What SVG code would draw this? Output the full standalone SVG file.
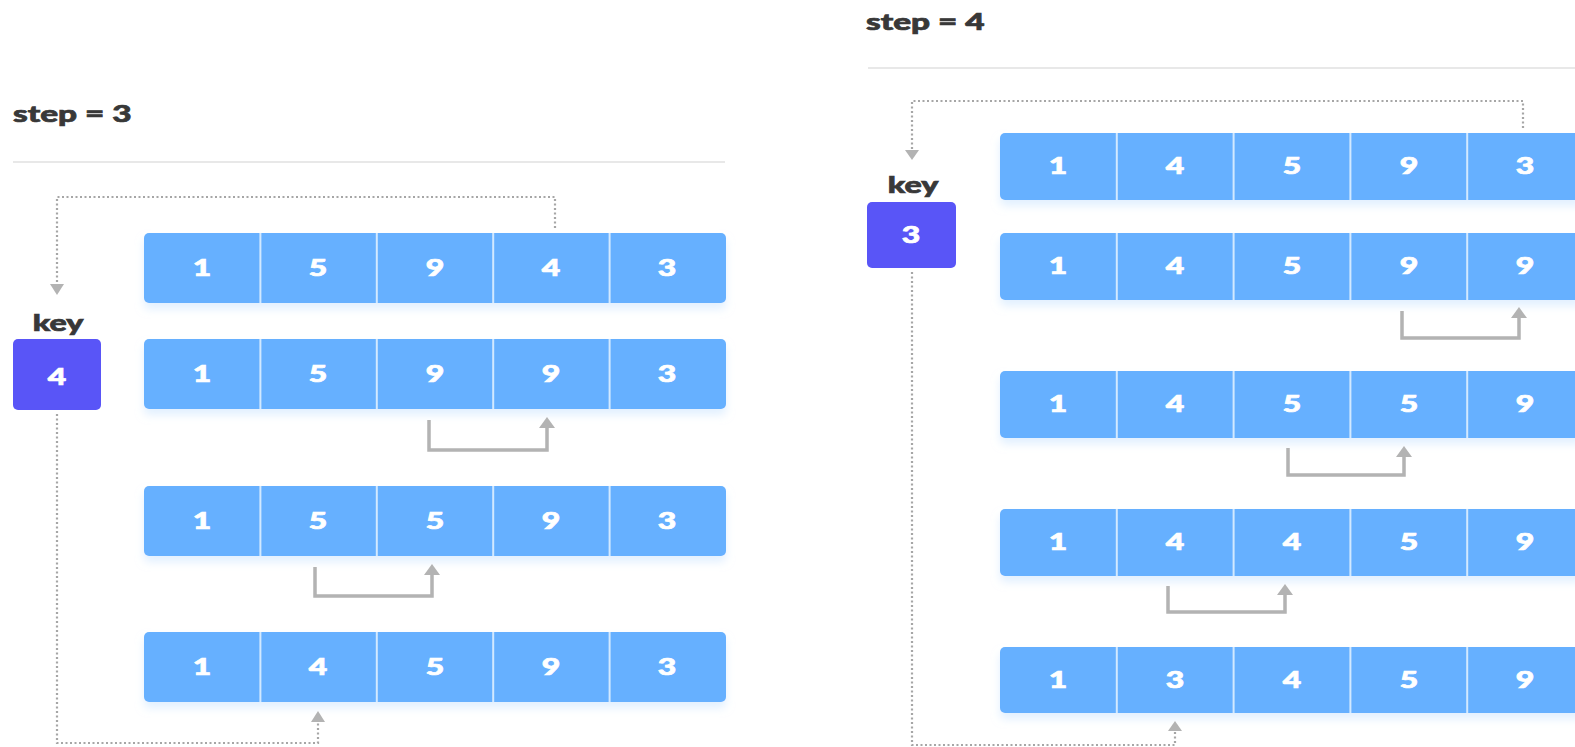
<svg xmlns="http://www.w3.org/2000/svg" width="1575" height="747" viewBox="0 0 1575 747">
  <style>
    .head { font-family: Lato, "DejaVu Sans", sans-serif; font-weight: 900; font-size: 23px; fill: #383838; stroke: #383838; stroke-width: 0.7; }
    .num { font-family: Lato, "DejaVu Sans", sans-serif; font-weight: 900; font-size: 22px; fill: #ffffff; stroke: #ffffff; stroke-width: 0.7; text-anchor: middle; }
    .row { fill: #66b0ff; filter: url(#glow); }
    .sep { stroke: #d2e9ff; stroke-width: 2; }
    .keybox { fill: #5955f7; }
    .rule { stroke: #e0e0e0; stroke-width: 1.5; fill: none; }
    .dot { stroke: #a6a6a6; stroke-width: 2.2; stroke-dasharray: 2 2.5; fill: none; }
    .move { stroke: #b3b3b3; stroke-width: 3.5; fill: none; }
    .tip { fill: #b3b3b3; }
  </style>
  <defs>
    <filter id="glow" x="-5%" y="-20%" width="110%" height="160%">
      <feDropShadow dx="0" dy="6" stdDeviation="4" flood-color="#cfe6ff" flood-opacity="0.6"/>
    </filter>
  </defs>
  <rect width="1575" height="747" fill="#ffffff"/>

  <!-- step = 3 panel -->
  <g id="panel-step3">
    <text class="head" transform="matrix(1.45 0 0 1 13 122)" x="0" y="0">step = 3</text>
    <line class="rule" x1="13" y1="162" x2="725" y2="162"/>
  </g>
  <g id="key-step3">
    <text class="head" transform="matrix(1.4 0 0 1 58 331)" x="0" y="0" text-anchor="middle">key</text>
    <rect class="keybox" x="13" y="339" width="88" height="71" rx="5"/>
    <text class="num" transform="matrix(1.45 0 0 1 57 385)" x="0" y="0">4</text>
  </g>
  <g id="s3-row1">
    <rect class="row" x="144" y="233" width="582" height="70" rx="5"/>
    <line class="sep" x1="260.4" y1="233" x2="260.4" y2="303"/>
    <line class="sep" x1="376.8" y1="233" x2="376.8" y2="303"/>
    <line class="sep" x1="493.2" y1="233" x2="493.2" y2="303"/>
    <line class="sep" x1="609.6" y1="233" x2="609.6" y2="303"/>
    <text class="num" transform="matrix(1.45 0 0 1 202 276)" x="0" y="0">1</text>
    <text class="num" transform="matrix(1.45 0 0 1 318 276)" x="0" y="0">5</text>
    <text class="num" transform="matrix(1.45 0 0 1 435 276)" x="0" y="0">9</text>
    <text class="num" transform="matrix(1.45 0 0 1 551 276)" x="0" y="0">4</text>
    <text class="num" transform="matrix(1.45 0 0 1 667 276)" x="0" y="0">3</text>
  </g>
  <g id="s3-row2">
    <rect class="row" x="144" y="339" width="582" height="70" rx="5"/>
    <line class="sep" x1="260.4" y1="339" x2="260.4" y2="409"/>
    <line class="sep" x1="376.8" y1="339" x2="376.8" y2="409"/>
    <line class="sep" x1="493.2" y1="339" x2="493.2" y2="409"/>
    <line class="sep" x1="609.6" y1="339" x2="609.6" y2="409"/>
    <text class="num" transform="matrix(1.45 0 0 1 202 382)" x="0" y="0">1</text>
    <text class="num" transform="matrix(1.45 0 0 1 318 382)" x="0" y="0">5</text>
    <text class="num" transform="matrix(1.45 0 0 1 435 382)" x="0" y="0">9</text>
    <text class="num" transform="matrix(1.45 0 0 1 551 382)" x="0" y="0">9</text>
    <text class="num" transform="matrix(1.45 0 0 1 667 382)" x="0" y="0">3</text>
  </g>
  <g id="s3-row3">
    <rect class="row" x="144" y="486" width="582" height="70" rx="5"/>
    <line class="sep" x1="260.4" y1="486" x2="260.4" y2="556"/>
    <line class="sep" x1="376.8" y1="486" x2="376.8" y2="556"/>
    <line class="sep" x1="493.2" y1="486" x2="493.2" y2="556"/>
    <line class="sep" x1="609.6" y1="486" x2="609.6" y2="556"/>
    <text class="num" transform="matrix(1.45 0 0 1 202 529)" x="0" y="0">1</text>
    <text class="num" transform="matrix(1.45 0 0 1 318 529)" x="0" y="0">5</text>
    <text class="num" transform="matrix(1.45 0 0 1 435 529)" x="0" y="0">5</text>
    <text class="num" transform="matrix(1.45 0 0 1 551 529)" x="0" y="0">9</text>
    <text class="num" transform="matrix(1.45 0 0 1 667 529)" x="0" y="0">3</text>
  </g>
  <g id="s3-row4">
    <rect class="row" x="144" y="632" width="582" height="70" rx="5"/>
    <line class="sep" x1="260.4" y1="632" x2="260.4" y2="702"/>
    <line class="sep" x1="376.8" y1="632" x2="376.8" y2="702"/>
    <line class="sep" x1="493.2" y1="632" x2="493.2" y2="702"/>
    <line class="sep" x1="609.6" y1="632" x2="609.6" y2="702"/>
    <text class="num" transform="matrix(1.45 0 0 1 202 675)" x="0" y="0">1</text>
    <text class="num" transform="matrix(1.45 0 0 1 318 675)" x="0" y="0">4</text>
    <text class="num" transform="matrix(1.45 0 0 1 435 675)" x="0" y="0">5</text>
    <text class="num" transform="matrix(1.45 0 0 1 551 675)" x="0" y="0">9</text>
    <text class="num" transform="matrix(1.45 0 0 1 667 675)" x="0" y="0">3</text>
  </g>

  <!-- step = 4 panel -->
  <g id="panel-step4">
    <text class="head" transform="matrix(1.45 0 0 1 866 30)" x="0" y="0">step = 4</text>
    <line class="rule" x1="868" y1="68" x2="1575" y2="68"/>
  </g>
  <g id="key-step4">
    <text class="head" transform="matrix(1.4 0 0 1 913 193)" x="0" y="0" text-anchor="middle">key</text>
    <rect class="keybox" x="867" y="202" width="89" height="66" rx="5"/>
    <text class="num" transform="matrix(1.45 0 0 1 911 243)" x="0" y="0">3</text>
  </g>
  <g id="s4-row1">
    <rect class="row" x="1000" y="133" width="584" height="67" rx="5"/>
    <line class="sep" x1="1116.8" y1="133" x2="1116.8" y2="200"/>
    <line class="sep" x1="1233.6" y1="133" x2="1233.6" y2="200"/>
    <line class="sep" x1="1350.4" y1="133" x2="1350.4" y2="200"/>
    <line class="sep" x1="1467.2" y1="133" x2="1467.2" y2="200"/>
    <text class="num" transform="matrix(1.45 0 0 1 1058 174)" x="0" y="0">1</text>
    <text class="num" transform="matrix(1.45 0 0 1 1175 174)" x="0" y="0">4</text>
    <text class="num" transform="matrix(1.45 0 0 1 1292 174)" x="0" y="0">5</text>
    <text class="num" transform="matrix(1.45 0 0 1 1409 174)" x="0" y="0">9</text>
    <text class="num" transform="matrix(1.45 0 0 1 1525 174)" x="0" y="0">3</text>
  </g>
  <g id="s4-row2">
    <rect class="row" x="1000" y="233" width="584" height="67" rx="5"/>
    <line class="sep" x1="1116.8" y1="233" x2="1116.8" y2="300"/>
    <line class="sep" x1="1233.6" y1="233" x2="1233.6" y2="300"/>
    <line class="sep" x1="1350.4" y1="233" x2="1350.4" y2="300"/>
    <line class="sep" x1="1467.2" y1="233" x2="1467.2" y2="300"/>
    <text class="num" transform="matrix(1.45 0 0 1 1058 274)" x="0" y="0">1</text>
    <text class="num" transform="matrix(1.45 0 0 1 1175 274)" x="0" y="0">4</text>
    <text class="num" transform="matrix(1.45 0 0 1 1292 274)" x="0" y="0">5</text>
    <text class="num" transform="matrix(1.45 0 0 1 1409 274)" x="0" y="0">9</text>
    <text class="num" transform="matrix(1.45 0 0 1 1525 274)" x="0" y="0">9</text>
  </g>
  <g id="s4-row3">
    <rect class="row" x="1000" y="371" width="584" height="67" rx="5"/>
    <line class="sep" x1="1116.8" y1="371" x2="1116.8" y2="438"/>
    <line class="sep" x1="1233.6" y1="371" x2="1233.6" y2="438"/>
    <line class="sep" x1="1350.4" y1="371" x2="1350.4" y2="438"/>
    <line class="sep" x1="1467.2" y1="371" x2="1467.2" y2="438"/>
    <text class="num" transform="matrix(1.45 0 0 1 1058 412)" x="0" y="0">1</text>
    <text class="num" transform="matrix(1.45 0 0 1 1175 412)" x="0" y="0">4</text>
    <text class="num" transform="matrix(1.45 0 0 1 1292 412)" x="0" y="0">5</text>
    <text class="num" transform="matrix(1.45 0 0 1 1409 412)" x="0" y="0">5</text>
    <text class="num" transform="matrix(1.45 0 0 1 1525 412)" x="0" y="0">9</text>
  </g>
  <g id="s4-row4">
    <rect class="row" x="1000" y="509" width="584" height="67" rx="5"/>
    <line class="sep" x1="1116.8" y1="509" x2="1116.8" y2="576"/>
    <line class="sep" x1="1233.6" y1="509" x2="1233.6" y2="576"/>
    <line class="sep" x1="1350.4" y1="509" x2="1350.4" y2="576"/>
    <line class="sep" x1="1467.2" y1="509" x2="1467.2" y2="576"/>
    <text class="num" transform="matrix(1.45 0 0 1 1058 550)" x="0" y="0">1</text>
    <text class="num" transform="matrix(1.45 0 0 1 1175 550)" x="0" y="0">4</text>
    <text class="num" transform="matrix(1.45 0 0 1 1292 550)" x="0" y="0">4</text>
    <text class="num" transform="matrix(1.45 0 0 1 1409 550)" x="0" y="0">5</text>
    <text class="num" transform="matrix(1.45 0 0 1 1525 550)" x="0" y="0">9</text>
  </g>
  <g id="s4-row5">
    <rect class="row" x="1000" y="647" width="584" height="66" rx="5"/>
    <line class="sep" x1="1116.8" y1="647" x2="1116.8" y2="713"/>
    <line class="sep" x1="1233.6" y1="647" x2="1233.6" y2="713"/>
    <line class="sep" x1="1350.4" y1="647" x2="1350.4" y2="713"/>
    <line class="sep" x1="1467.2" y1="647" x2="1467.2" y2="713"/>
    <text class="num" transform="matrix(1.45 0 0 1 1058 688)" x="0" y="0">1</text>
    <text class="num" transform="matrix(1.45 0 0 1 1175 688)" x="0" y="0">3</text>
    <text class="num" transform="matrix(1.45 0 0 1 1292 688)" x="0" y="0">4</text>
    <text class="num" transform="matrix(1.45 0 0 1 1409 688)" x="0" y="0">5</text>
    <text class="num" transform="matrix(1.45 0 0 1 1525 688)" x="0" y="0">9</text>
  </g>

  <!-- connectors: dotted key pick-up / drop-off, solid shift moves -->
  <g id="connectors">
    <path class="dot" d="M555 228 V197 H57 V284"/>
    <polygon class="tip" points="50,284 64,284 57,295"/>
    <path class="dot" d="M57 414 V743 H318 V722"/>
    <polygon class="tip" points="311,722 325,722 318,711"/>
    <path class="move" d="M429 420 V450 H547 V427"/>
    <polygon class="tip" points="539,428 555,428 547,417"/>
    <path class="move" d="M315 567 V596 H432 V574"/>
    <polygon class="tip" points="424,575 440,575 432,564"/>

    <path class="dot" d="M1523 128 V101 H912 V150"/>
    <polygon class="tip" points="905,150 919,150 912,160"/>
    <path class="dot" d="M912 272 V745 H1175 V731"/>
    <polygon class="tip" points="1168,731 1182,731 1175,721"/>
    <path class="move" d="M1402 311 V338 H1519 V317"/>
    <polygon class="tip" points="1511,318 1527,318 1519,307"/>
    <path class="move" d="M1288 448 V475 H1404 V456"/>
    <polygon class="tip" points="1396,457 1412,457 1404,446"/>
    <path class="move" d="M1168 586 V612 H1285 V594"/>
    <polygon class="tip" points="1277,595 1293,595 1285,584"/>
  </g>
</svg>
